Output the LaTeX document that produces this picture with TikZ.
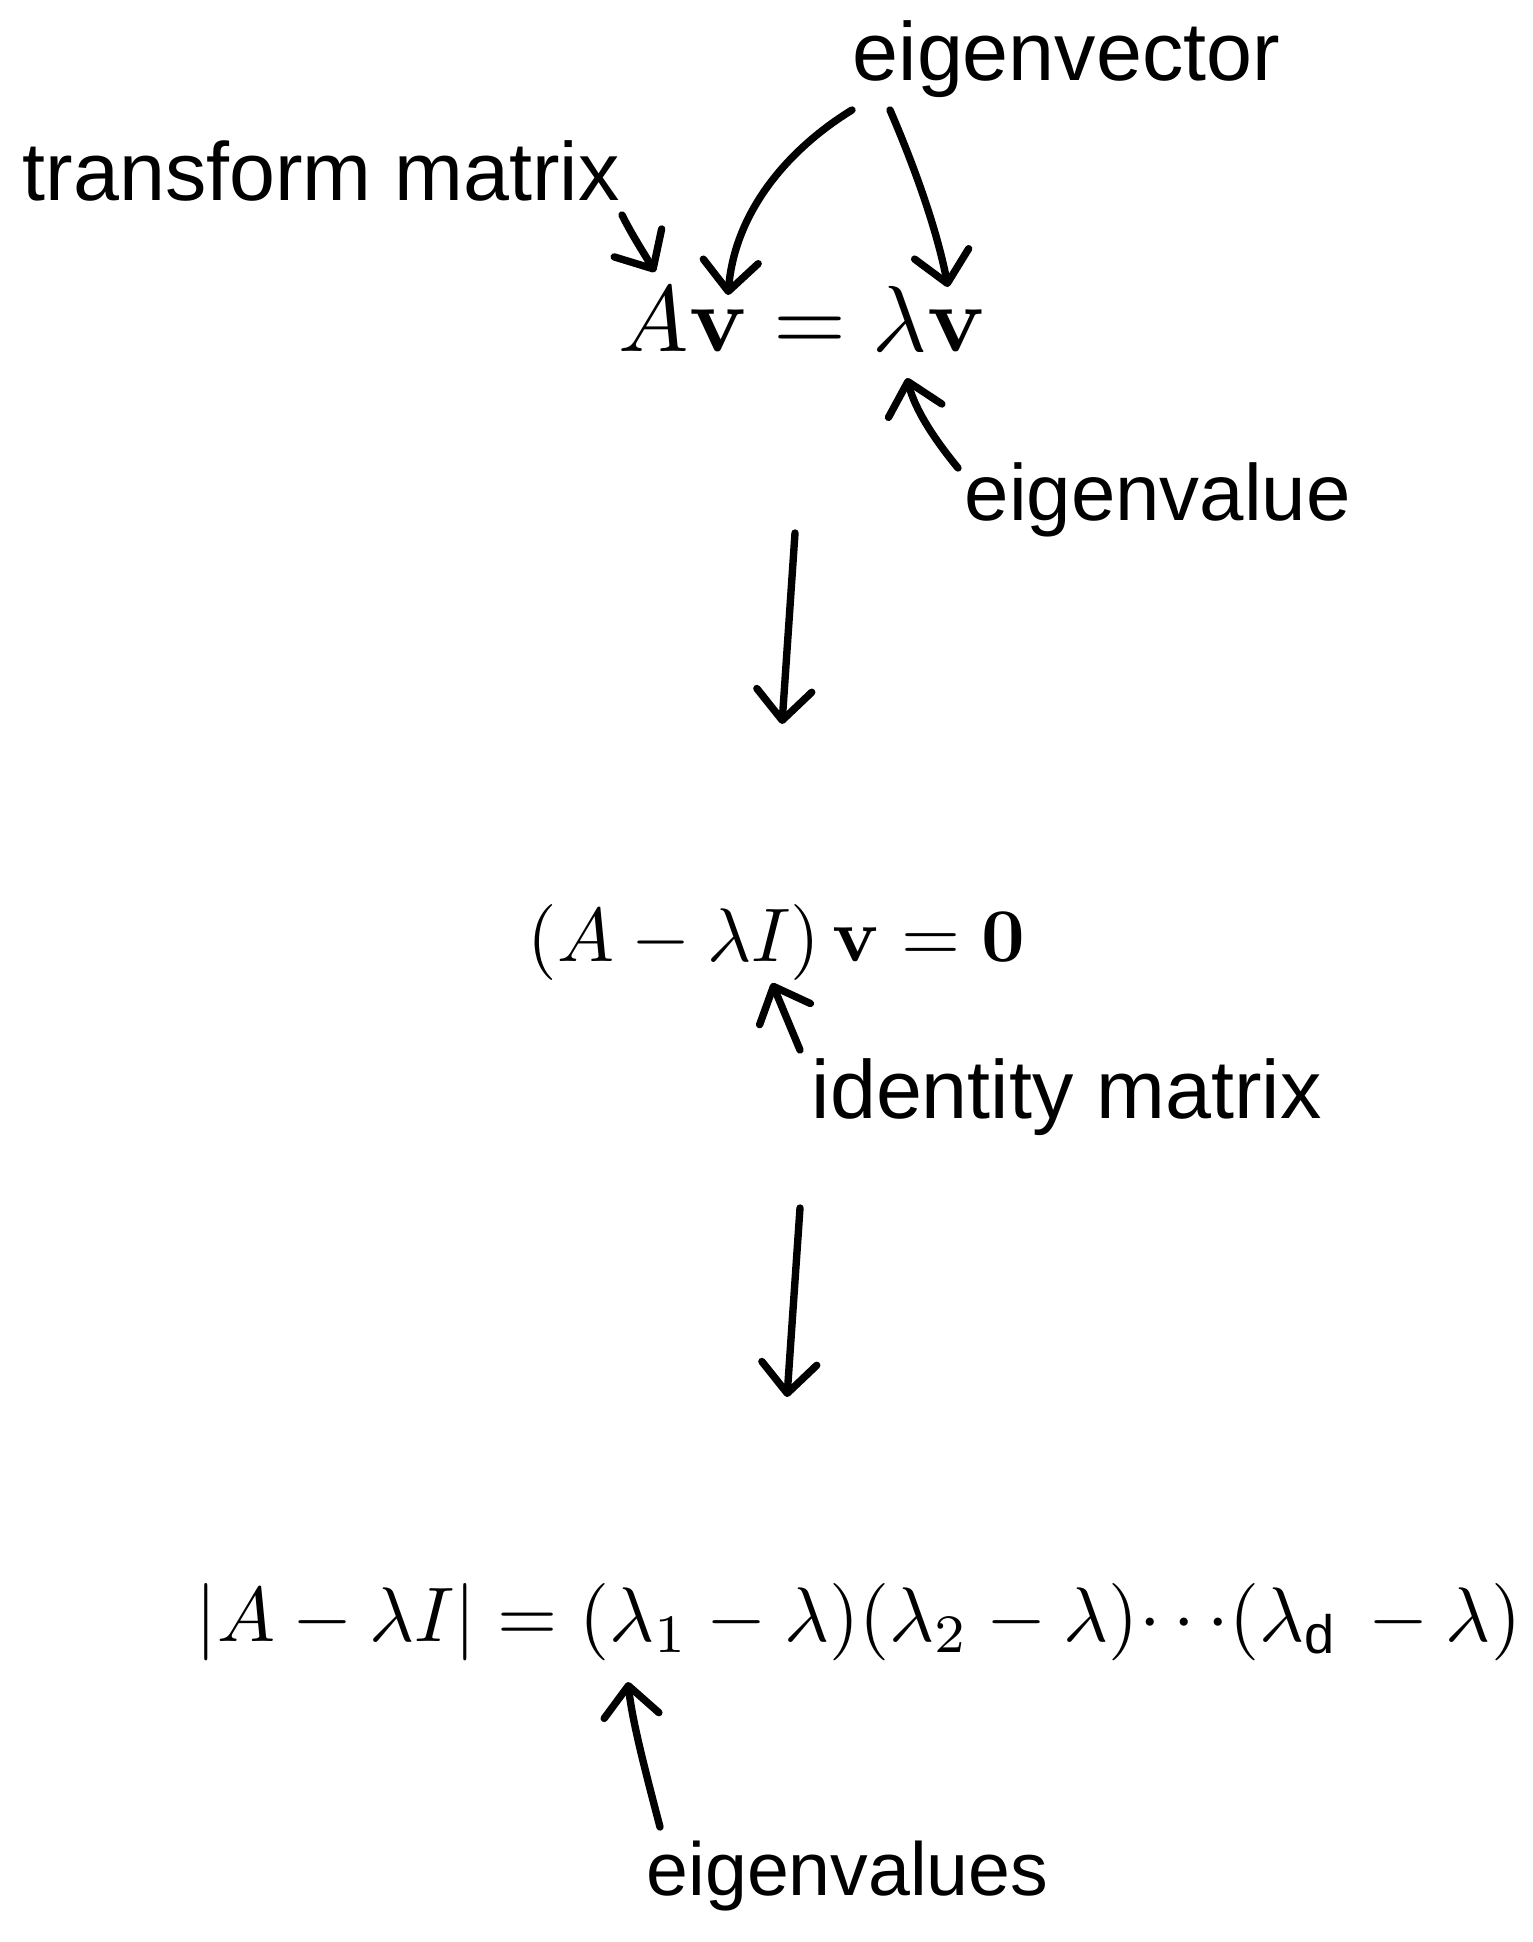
\documentclass[tikz,border=0pt]{standalone}
\usepackage{graphicx}
\usepackage[no-math]{fontspec}
\newfontfamily\lab{Liberation Sans}
\usetikzlibrary{arrows.meta}
\begin{document}
\begin{tikzpicture}[x=0.01cm,y=-0.01cm,
  lbl/.style={anchor=base west,inner sep=0pt,font=\lab\fontsize{23.5}{28}\selectfont},
  eqn/.style={anchor=base west,inner sep=0pt},
  arr/.style={line width=2.1pt,line cap=round,line join=round,
    -{Straight Barb[length=0.3cm,width=0.55cm,round]}}]
\useasboundingbox (0,0) rectangle (1532,1942);

% labels
\node[lbl] (evec) at (852,80) {eigenvector};
\node[lbl] (tm) at (22,200) {transform matrix};
\node[lbl,font=\lab\fontsize{22.7}{27}\selectfont] (eval) at (964,520) {eigenvalue};
\node[lbl] (idm) at (811,1118) {identity matrix};
\node[lbl,font=\lab\fontsize{21.4}{26}\selectfont] (evals) at (646,1895) {eigenvalues};

% equations
\node[eqn] (eq1) at (618,351) {\scalebox{2.67}{$A\mathbf{v} = \lambda\mathbf{v}$}};
\node[eqn] (eq2) at (527,961) {\scalebox{2.16}{$(A - \lambda I)\,\mathbf{v} = \mathbf{0}$}};
\node[eqn] (eq3) at (195,1641) {\scalebox{2.2}{$|A - \lambda I| = (\lambda_1 - \lambda)(\lambda_2 - \lambda){\cdots}(\lambda_{\mbox{\lab\fontsize{7}{8}\selectfont d}}\, - \lambda)$}};

% arrow end points
\coordinate (tmS) at (622,215);   \coordinate (tmT) at (655,272);
\coordinate (evLS) at (852,110);  \coordinate (evLT) at (728,295);
\coordinate (evRS) at (890,110);  \coordinate (evRT) at (948,287);
\coordinate (evalS) at (958,468); \coordinate (evalT) at (907,378);
\coordinate (d1S) at (795,533);   \coordinate (d1T) at (782,724);
\coordinate (idS) at (800,1050);  \coordinate (idT) at (772,983);
\coordinate (d2S) at (800,1208);  \coordinate (d2T) at (787,1397);
\coordinate (evsS) at (660,1827); \coordinate (evsT) at (628,1682);

\draw[arr] (tmS) .. controls (632,235) and (645,255) .. (tmT);
\draw[arr] (evLS) .. controls (790,148) and (735,210) .. (evLT);
\draw[arr] (evRS) .. controls (918,175) and (938,235) .. (evRT);
\draw[arr] (evalS) .. controls (935,440) and (915,410) .. (evalT);
\draw[arr] (d1S) -- (d1T);
\draw[arr] (idS) -- (idT);
\draw[arr] (d2S) -- (d2T);
\draw[arr] (evsS) .. controls (645,1770) and (632,1720) .. (evsT);
\end{tikzpicture}
\end{document}
